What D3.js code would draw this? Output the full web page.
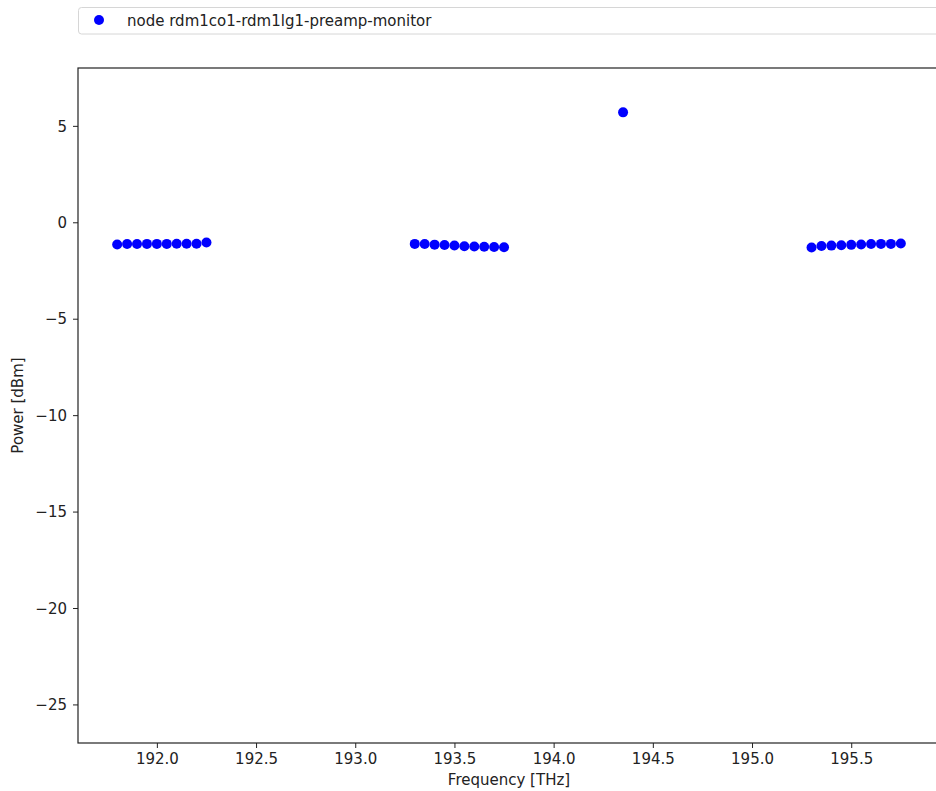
<!DOCTYPE html>
<html><head><meta charset="utf-8">
<script src="https://cdn.jsdelivr.net/npm/d3@7"></script>
<style>body{margin:0;background:#fff;}svg{display:block;font-family:"DejaVu Sans",sans-serif;}</style>
</head><body>
<svg id="c" width="936" height="791"></svg>
<script>
const seriesName = "node rdm1co1-rdm1lg1-preamp-monitor";
const freqs = [191.80,191.85,191.90,191.95,192.00,192.05,192.10,192.15,192.20,192.25,
               193.30,193.35,193.40,193.45,193.50,193.55,193.60,193.65,193.70,193.75,
               194.35,
               195.30,195.35,195.40,195.45,195.50,195.55,195.60,195.65,195.70,195.75];
const powers = [-1.15,-1.13,-1.13,-1.12,-1.12,-1.12,-1.11,-1.11,-1.11,-1.05,
                -1.12,-1.13,-1.16,-1.18,-1.20,-1.24,-1.26,-1.27,-1.28,-1.29,
                5.70,
                -1.31,-1.23,-1.21,-1.19,-1.17,-1.15,-1.13,-1.12,-1.12,-1.10];
const xTicks = [192.0,192.5,193.0,193.5,194.0,194.5,195.0,195.5];
const yTicks = [5,0,-5,-10,-15,-20,-25];
const xDomain = [191.6025, 195.9475];
const yDomain = [-27, 8];

const svg = d3.select("#c");
const L = 78, R = 940, T = 68, B = 743;
const x = d3.scaleLinear().domain(xDomain).range([L, R]);
const y = d3.scaleLinear().domain(yDomain).range([B, T]);
const fmtX = d3.format(".1f");
const fmtY = v => (v < 0 ? "\u2212" + Math.abs(v) : String(v));
const FS = 15;

// points
svg.append("g").selectAll("circle").data(freqs).join("circle")
  .attr("cx", (d) => x(d)).attr("cy", (d, i) => y(powers[i]))
  .attr("r", 5).attr("fill", "#0000ff");

// axes
const xAxis = svg.append("g").attr("transform", `translate(0,${B})`)
  .call(d3.axisBottom(x).tickValues(xTicks).tickFormat(fmtX).tickSize(5).tickPadding(5));
const yAxis = svg.append("g").attr("transform", `translate(${L},0)`)
  .call(d3.axisLeft(y).tickValues(yTicks).tickFormat(fmtY).tickSize(5).tickPadding(6));
[xAxis, yAxis].forEach(a => {
  a.select(".domain").remove();
  a.selectAll("text").attr("font-size", FS).attr("fill", "#222").attr("font-family", "DejaVu Sans");
  a.selectAll("line").attr("stroke", "#222");
});
yAxis.selectAll("text").attr("dy", "0.35em");

// frame
svg.append("rect").attr("x", L).attr("y", T).attr("width", R - L).attr("height", B - T)
  .attr("fill", "none").attr("stroke", "#222").attr("stroke-width", 1.2);

// labels
svg.append("text").attr("x", (L + R) / 2).attr("y", 785).attr("text-anchor", "middle")
  .attr("font-size", FS).attr("fill", "#222").text("Frequency [THz]");
svg.append("text").attr("transform", `translate(23,${(T + B) / 2}) rotate(-90)`)
  .attr("text-anchor", "middle").attr("font-size", FS).attr("fill", "#222").text("Power [dBm]");

// legend
const lg = svg.append("g");
lg.append("rect").attr("x", 78.5).attr("y", 7.5).attr("width", 870).attr("height", 26.5)
  .attr("rx", 3).attr("fill", "#fff").attr("stroke", "#d6d6d6");
lg.append("circle").attr("cx", 99).attr("cy", 20).attr("r", 5).attr("fill", "#0000ff");
lg.append("text").attr("x", 127).attr("y", 25.5).attr("font-size", FS).attr("fill", "#222").text(seriesName);
</script>
</body></html>
